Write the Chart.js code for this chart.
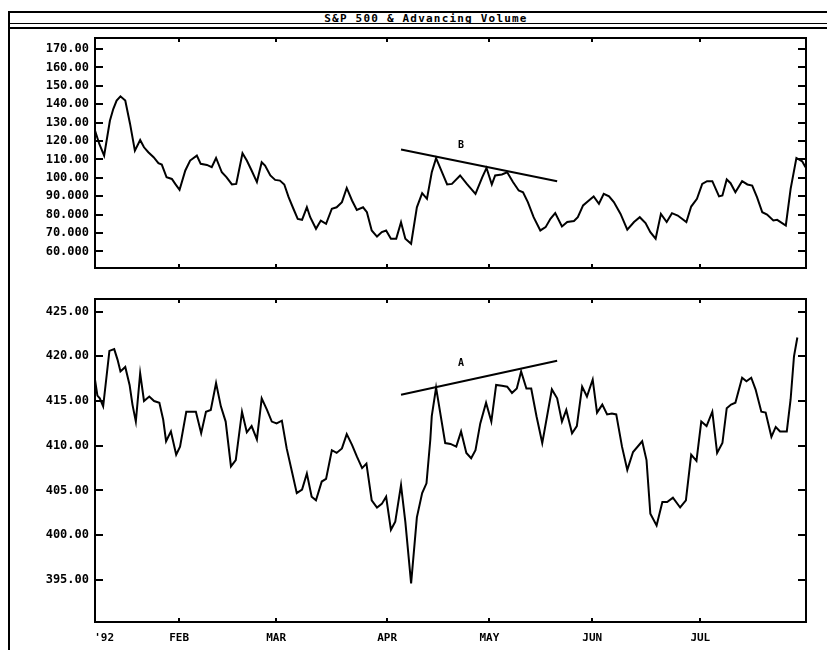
<!DOCTYPE html>
<html>
<head>
<meta charset="utf-8">
<script src="https://cdn.jsdelivr.net/npm/chart.js@4.4.1/dist/chart.umd.min.js"></script>
<style>
  body { margin: 0; background: #fff; }
  #page { position: relative; width: 827px; height: 650px; overflow: hidden; background: #fff; }
  .rule { position: absolute; background: #000; }
  #title { position: absolute; left: 0; top: 12px; width: 852px; height: 12px; line-height: 12px;
           text-align: center; font: bold 11px "DejaVu Sans Mono", monospace; letter-spacing: 1.2px;
           text-decoration: underline; color: #000; }
  canvas { position: absolute; left: 11px; }
  #topChart { top: 30px; }
  #bottomChart { top: 290px; }
</style>
</head>
<body>
<div id="page">
  <div class="rule" style="left:9px;top:11px;width:818px;height:2px"></div>
  <div class="rule" style="left:9px;top:23px;width:818px;height:1px"></div>
  <div class="rule" style="left:9px;top:27px;width:818px;height:2px"></div>
  <div class="rule" style="left:8px;top:11px;width:2px;height:639px"></div>
  <div id="title">S&amp;P 500 &amp; Advancing Volume</div>
  <canvas id="topChart" width="816" height="255"></canvas>
  <canvas id="bottomChart" width="816" height="360"></canvas>
</div>
<script>
// trading-day index of each month label
const monthLabels = ["'92", 'FEB', 'MAR', 'APR', 'MAY', 'JUN', 'JUL'];
const monthPos = [1.9, 17.5, 37.7, 60.8, 82.1, 103.5, 126.0];

const topTicks = [60, 70, 80, 90, 100, 110, 120, 130, 140, 150, 160, 170];
const bottomTicks = [395, 400, 405, 410, 415, 420, 425];

// advancing volume (top panel)
const topDays = [0, 0.9, 1.9, 3.1, 3.8, 4.5, 5.3, 6.3, 7.3, 8.3,
  9.4, 10.2, 11.1, 12.2, 13.2, 13.9, 14.9, 16.0, 16.7, 17.6,
  18.8, 19.8, 21.2, 22.0, 23.3, 24.3, 25.2, 26.4, 27.4, 28.5,
  29.4, 30.7, 31.6, 32.6, 33.7, 34.7, 35.4, 36.5, 37.5, 38.5,
  39.4, 40.3, 41.3, 42.2, 43.1, 44.1, 44.8, 46.0, 47.0, 48.1,
  49.3, 50.3, 51.4, 52.4, 53.5, 54.5, 55.8, 56.6, 57.6, 58.7,
  59.7, 60.6, 61.6, 62.7, 63.7, 64.6, 65.8, 67.0, 68.1, 69.1,
  70.1, 71.0, 73.3, 74.3, 76.0, 77.4, 79.2, 80.6, 81.5, 82.6,
  83.3, 84.7, 85.8, 87.0, 88.2, 89.1, 90.1, 91.3, 92.7, 93.8,
  94.8, 95.8, 97.2, 98.3, 99.7, 100.5, 101.6, 102.8, 103.8, 104.9,
  105.9, 107.0, 108.0, 109.4, 110.8, 112.2, 113.4, 114.6, 115.6, 116.7,
  117.8, 119.0, 120.1, 121.3, 123.1, 124.1, 125.3, 126.4, 127.4, 128.5,
  129.9, 130.6, 131.5, 132.3, 133.3, 134.7, 135.8, 136.8, 137.8, 138.9,
  139.9, 141.2, 142.0, 143.8, 144.8, 146.0, 147.2, 147.9];
const topValues = [125.7, 118.4, 112.1, 131, 137.4, 142, 144.3, 142, 129.3, 114.8,
  120.6, 116.6, 113.9, 111.2, 108, 107.2, 100.3, 99.4, 96.7, 93.5,
  104, 109.4, 112.1, 107.6, 107, 105.8, 110.8, 103, 100.3, 96.4,
  96.7, 113.4, 109.4, 104, 97.7, 108.5, 106.7, 101.3, 98.9, 98.5,
  96.4, 89.5, 83.2, 77.7, 77.2, 84, 78.6, 72.3, 76.8, 75,
  83.2, 84, 86.8, 94.5, 87.7, 82.6, 84, 81.3, 71.4, 68.1,
  70.5, 71.4, 66.9, 66.9, 75.9, 66.9, 64.2, 84, 91.7, 88.6,
  103, 110.7, 96.4, 96.7, 101.3, 96.7, 91.3, 100.3, 105.4, 96.4,
  101.3, 101.8, 103, 97.7, 93.1, 92.2, 86.8, 78.6, 71.4, 73.2,
  77.7, 80.8, 73.6, 76, 76.5, 78.6, 85, 87.7, 89.9, 85.9,
  91.3, 89.9, 86.8, 80.4, 71.8, 76, 78.6, 75.4, 70.5, 66.9,
  80.4, 76, 80.8, 79.5, 76, 84.4, 88.6, 96.7, 98.2, 98.2,
  89.9, 90.4, 99.1, 97.1, 92.2, 98.2, 96.4, 95.8, 89.5, 81.3,
  80, 76.8, 77.2, 74.1, 94, 110.8, 109, 105.8];

// S&P 500 (bottom panel)
const bottomDays = [0, 0.5, 1.0, 1.7, 3.0, 4.0, 4.7, 5.3, 6.3, 7.2,
  7.8, 8.5, 9.4, 10.2, 11.3, 12.3, 13.4, 14.2, 14.8, 15.8,
  16.9, 17.7, 19.0, 20.1, 21.0, 22.1, 23.1, 24.1, 25.2, 26.2,
  27.2, 28.3, 29.3, 30.6, 31.6, 32.6, 33.7, 34.7, 35.8, 36.8,
  37.8, 38.9, 39.9, 41.0, 42.0, 43.1, 44.1, 45.1, 46.0, 47.2,
  48.1, 49.3, 50.3, 51.4, 52.4, 53.5, 54.5, 55.6, 56.5, 57.6,
  58.7, 59.7, 60.6, 61.6, 62.5, 63.7, 64.6, 65.8, 67.0, 68.1,
  69.0, 69.8, 70.1, 71.0, 72.9, 74.0, 75.2, 76.2, 77.3, 78.3,
  79.2, 80.2, 81.4, 82.5, 83.5, 84.7, 85.8, 86.8, 87.8, 88.7,
  89.8, 90.8, 91.9, 93.1, 94.1, 95.1, 96.2, 97.2, 98.1, 99.3,
  100.3, 101.4, 102.4, 103.6, 104.5, 105.6, 106.6, 107.6, 108.5, 109.7,
  110.8, 112.0, 113.9, 114.8, 115.6, 116.9, 118.1, 119.1, 120.3, 121.8,
  123.0, 124.1, 125.2, 126.2, 127.3, 128.5, 129.5, 130.6, 131.5, 132.4,
  133.3, 134.7, 135.6, 136.6, 137.5, 138.7, 139.6, 140.8, 141.7, 142.6,
  144.0, 144.8, 145.5, 146.2];
const bottomValues = [417.4, 415.6, 415.3, 414.4, 420.6, 420.8, 419.6, 418.3, 418.8, 416.8,
  414.6, 412.7, 418.1, 415, 415.5, 415, 414.8, 412.9, 410.5, 411.6,
  409.0, 409.9, 413.8, 413.8, 413.8, 411.4, 413.8, 414, 417, 414.4,
  412.7, 407.7, 408.4, 413.8, 411.5, 412.2, 410.7, 415.3, 414, 412.7,
  412.5, 412.8, 409.7, 407.1, 404.7, 405.1, 406.9, 404.3, 403.9, 406,
  406.3, 409.5, 409.2, 409.7, 411.3, 410.1, 408.8, 407.5, 408, 403.9,
  403.1, 403.5, 404.3, 400.6, 401.5, 405.6, 401.5, 394.6, 402, 404.7,
  405.8, 410.7, 413.3, 416.5, 410.3, 410.2, 409.9, 411.6, 409.2, 408.6,
  409.5, 412.5, 414.8, 412.7, 416.8, 416.7, 416.6, 415.9, 416.4, 418.3,
  416.4, 416.4, 413.3, 410.3, 413.3, 416.3, 415.3, 412.7, 414, 411.4,
  412.2, 416.6, 415.5, 417.4, 413.7, 414.6, 413.5, 413.6, 413.5, 409.9,
  407.3, 409.3, 410.5, 408.4, 402.4, 401.1, 403.7, 403.7, 404.2, 403.1,
  403.9, 409, 408.3, 412.7, 412.2, 413.8, 409.2, 410.3, 414.2, 414.6,
  414.8, 417.6, 417.2, 417.6, 416.3, 413.8, 413.7, 411, 412.1, 411.6,
  411.6, 415.2, 420, 422.1];

// hand-drawn trend lines
const trendDays = [63.7, 96.2];
const trendB = [115.4, 98.2];
const trendA = [415.7, 419.5];

const tickFont = { family: '"DejaVu Sans Mono", monospace', size: 12, weight: 'bold' };
const monthFont = { family: '"DejaVu Sans Mono", monospace', size: 11, weight: 'bold' };

function points(xs, ys) {
  return xs.map((x, i) => ({ x: x, y: ys[i] }));
}

function fixWidth(s) {
  s.width = 84;
  s.paddingTop = 0;
  s.paddingBottom = 0;
}

// border box, inward tick marks and the letter next to the trend line
const framePlugin = {
  id: 'frame',
  afterDatasetsDraw(chart, args, opts) {
    const ctx = chart.ctx;
    const a = chart.chartArea;
    const x = chart.scales.x;
    const y = chart.scales.y;
    ctx.save();
    ctx.strokeStyle = '#000';
    ctx.lineWidth = 2;
    ctx.strokeRect(a.left, a.top, a.right - a.left, a.bottom - a.top);
    ctx.beginPath();
    opts.yTicks.forEach(v => {
      const py = Math.round(y.getPixelForValue(v));
      ctx.moveTo(a.left, py); ctx.lineTo(a.left + 8, py);
      ctx.moveTo(a.right, py); ctx.lineTo(a.right - 8, py);
    });
    monthPos.slice(1).forEach(v => {
      const px = Math.round(x.getPixelForValue(v));
      ctx.moveTo(px, a.top); ctx.lineTo(px, a.top + 4);
      ctx.moveTo(px, a.bottom); ctx.lineTo(px, a.bottom - 4);
    });
    ctx.stroke();
    ctx.fillStyle = '#000';
    ctx.font = 'bold 10px "DejaVu Sans Mono", monospace';
    ctx.textAlign = 'center';
    ctx.textBaseline = 'middle';
    ctx.fillText(opts.note, x.getPixelForValue(opts.noteX), y.getPixelForValue(opts.noteY));
    ctx.restore();
  }
};

const topCtx = document.getElementById('topChart').getContext('2d');
const topChart = new Chart(topCtx, {
  type: 'line',
  data: {
    datasets: [{
      data: points(topDays, topValues),
      borderColor: '#000',
      borderWidth: 2,
      pointRadius: 0
    }, {
      data: points(trendDays, trendB),
      borderColor: '#000',
      borderWidth: 2,
      pointRadius: 0
    }]
  },
  options: {
    responsive: false,
    animation: false,
    layout: { padding: { top: 8, right: 21, bottom: 17, left: 0 } },
    plugins: {
      legend: { display: false },
      tooltip: { enabled: false },
      frame: { yTicks: topTicks, note: 'B', noteX: 76.2, noteY: 117.5 }
    },
    scales: {
      x: { type: 'linear', min: 0, max: 148, display: false },
      y: {
        min: 51, max: 176,
        afterFit: fixWidth,
        afterBuildTicks: s => { s.ticks = topTicks.map(v => ({ value: v })); },
        grid: { display: false, drawTicks: false },
        border: { display: false },
        ticks: { color: '#000', font: tickFont, padding: 6, callback: v => v.toPrecision(5) }
      }
    }
  },
  plugins: [framePlugin]
});

const bottomCtx = document.getElementById('bottomChart').getContext('2d');
const bottomChart = new Chart(bottomCtx, {
  type: 'line',
  data: {
    datasets: [{
      data: points(bottomDays, bottomValues),
      borderColor: '#000',
      borderWidth: 2,
      pointRadius: 0
    }, {
      data: points(trendDays, trendA),
      borderColor: '#000',
      borderWidth: 2,
      pointRadius: 0
    }]
  },
  options: {
    responsive: false,
    animation: false,
    layout: { padding: { top: 9, right: 21, bottom: 0, left: 0 } },
    plugins: {
      legend: { display: false },
      tooltip: { enabled: false },
      frame: { yTicks: bottomTicks, note: 'A', noteX: 76.2, noteY: 419.2 }
    },
    scales: {
      x: {
        type: 'linear', min: 0, max: 148,
        afterFit: s => { s.height = 28; s.paddingLeft = 0; s.paddingRight = 0; },
        afterBuildTicks: s => { s.ticks = monthPos.map(v => ({ value: v })); },
        grid: { display: false, drawTicks: false },
        border: { display: false },
        ticks: { color: '#000', font: monthFont, padding: 10, autoSkip: false, maxRotation: 0,
                 callback: (v, i) => monthLabels[i] }
      },
      y: {
        min: 390.3, max: 426.4,
        afterFit: fixWidth,
        afterBuildTicks: s => { s.ticks = bottomTicks.map(v => ({ value: v })); },
        grid: { display: false, drawTicks: false },
        border: { display: false },
        ticks: { color: '#000', font: tickFont, padding: 6, callback: v => v.toPrecision(5) }
      }
    }
  },
  plugins: [framePlugin]
});
</script>
</body>
</html>
